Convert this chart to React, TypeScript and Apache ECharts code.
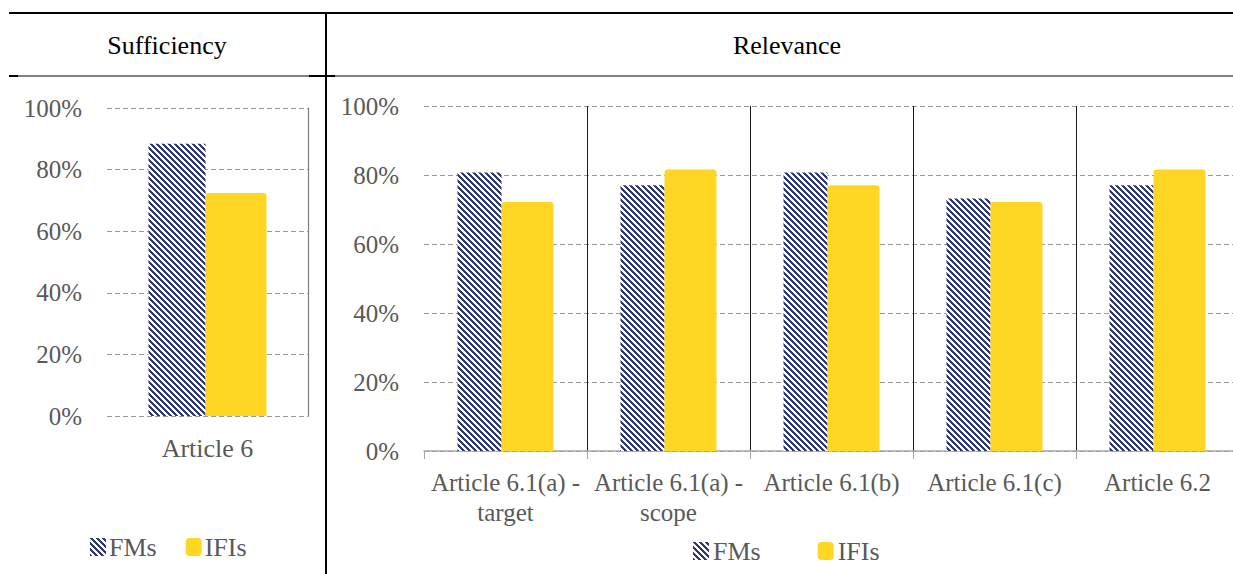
import React, { useEffect, useRef } from 'react';
import * as echarts from 'echarts';

// ---- Data ----
const sufficiencyCategories = ['Article 6'];
const sufficiencyFMs = [88.4];
const sufficiencyIFIs = [72.4];

const relevanceCategories = [
  'Article 6.1(a) - target',
  'Article 6.1(a) - scope',
  'Article 6.1(b)',
  'Article 6.1(c)',
  'Article 6.2',
];
const relevanceFMs = [80.7, 77.0, 80.7, 73.2, 77.0];
const relevanceIFIs = [72.2, 81.6, 77.0, 72.2, 81.6];

const seriesNames = ['FMs', 'IFIs'];
const panelTitles = ['Sufficiency', 'Relevance'];

const FONT = 'Liberation Serif';
const NAVY = '#2F3878';
const YELLOW = '#FFD624';
const GRAY_TEXT = '#595959';

function makeStripe(): HTMLCanvasElement {
  const size = 6;
  const c = document.createElement('canvas');
  c.width = size;
  c.height = size;
  const ctx = c.getContext('2d')!;
  ctx.fillStyle = '#ffffff';
  ctx.fillRect(0, 0, size, size);
  ctx.fillStyle = NAVY;
  for (let y = 0; y < size; y++) {
    for (let x = 0; x < size; x++) {
      const d = (((x - y) % size) + size) % size;
      if (d < 3) ctx.fillRect(x, y, 1, 1);
    }
  }
  return c;
}

export default function App() {
  const ref = useRef<HTMLDivElement>(null);

  useEffect(() => {
    if (!ref.current) return;
    const chart = echarts.init(ref.current, undefined, { renderer: 'svg' });
    const stripe = makeStripe();
    const pattern: any = { image: stripe, repeat: 'repeat', imageWidth: 6, imageHeight: 6 };

    const axisLabel = { color: GRAY_TEXT, fontSize: 25, fontFamily: FONT };
    const gridLine = { show: true, lineStyle: { color: '#9A9A9A', width: 1.2, type: [5, 3] as any } };

    const option: any = {
      animation: false,
      backgroundColor: '#ffffff',
      textStyle: { fontFamily: FONT },
      grid: [
        { left: 107, top: 108, width: 201, height: 308 },
        { left: 424, top: 106, width: 815, height: 345 },
      ],
      xAxis: [
        {
          type: 'category',
          gridIndex: 0,
          data: sufficiencyCategories,
          axisLine: { show: false },
          axisTick: { show: false },
          axisLabel: { ...axisLabel, fontSize: 26, margin: 19 },
        },
        {
          type: 'category',
          gridIndex: 1,
          data: relevanceCategories,
          axisLine: { show: true, lineStyle: { color: '#A6A6A6', width: 1.5 } },
          axisTick: { show: true, interval: 0, length: 8, lineStyle: { color: '#A6A6A6' } },
          splitLine: {
            show: true,
            interval: (i: number) => i > 0,
            lineStyle: { color: '#1a1a1a', width: 1 },
          },
          axisLabel: {
            ...axisLabel,
            interval: 0,
            margin: 16,
            lineHeight: 30,
            formatter: (v: string) => v.replace(' - ', ' -\n'),
          },
        },
      ],
      yAxis: [
        {
          type: 'value',
          gridIndex: 0,
          min: 0,
          max: 100,
          interval: 20,
          axisLine: { show: false },
          axisTick: { show: false },
          axisLabel: { ...axisLabel, margin: 25, formatter: '{value}%' },
          splitLine: gridLine,
        },
        {
          type: 'value',
          gridIndex: 0,
          position: 'right',
          min: 0,
          max: 100,
          interval: 20,
          axisLine: { show: true, lineStyle: { color: '#7F7F7F', width: 1.2 } },
          axisTick: { show: false },
          axisLabel: { show: false },
          splitLine: { show: false },
        },
        {
          type: 'value',
          gridIndex: 1,
          min: 0,
          max: 100,
          interval: 20,
          axisLine: { show: false },
          axisTick: { show: false },
          axisLabel: { ...axisLabel, margin: 25, formatter: '{value}%' },
          splitLine: gridLine,
        },
      ],
      legend: [
        {
          left: 85,
          top: 529,
          itemWidth: 16,
          itemHeight: 18,
          itemGap: 29,
          textStyle: { color: GRAY_TEXT, fontSize: 26, fontFamily: FONT, padding: [2, 0, 0, -2] },
          data: [
            { name: seriesNames[0], icon: 'rect' },
            { name: seriesNames[1], icon: 'roundRect' },
          ],
        },
        {
          left: 688,
          top: 533,
          itemWidth: 16,
          itemHeight: 18,
          itemGap: 57,
          textStyle: { color: GRAY_TEXT, fontSize: 26, fontFamily: FONT, padding: [2, 0, 0, -1] },
          data: [
            { name: seriesNames[0], icon: 'rect' },
            { name: seriesNames[1], icon: 'roundRect' },
          ],
        },
      ],
      series: [
        {
          name: seriesNames[0],
          type: 'bar',
          xAxisIndex: 0,
          yAxisIndex: 0,
          data: sufficiencyFMs,
          barWidth: 57,
          barGap: '0%',
          itemStyle: { color: pattern },
        },
        {
          name: seriesNames[1],
          type: 'bar',
          xAxisIndex: 0,
          yAxisIndex: 0,
          data: sufficiencyIFIs,
          barWidth: 61,
          barGap: '0%',
          itemStyle: { color: YELLOW, borderRadius: [3, 3, 0, 0] },
        },
        {
          name: seriesNames[0],
          type: 'bar',
          xAxisIndex: 1,
          yAxisIndex: 2,
          data: relevanceFMs,
          barWidth: 44,
          barGap: '0%',
          itemStyle: { color: pattern },
        },
        {
          name: seriesNames[1],
          type: 'bar',
          xAxisIndex: 1,
          yAxisIndex: 2,
          data: relevanceIFIs,
          barWidth: 52,
          barGap: '0%',
          itemStyle: { color: YELLOW, borderRadius: [3, 3, 0, 0] },
        },
      ],
      graphic: [
        { type: 'line', silent: true, shape: { x1: 9, y1: 13, x2: 1240, y2: 13 }, style: { stroke: '#000', lineWidth: 2 } },
        { type: 'line', silent: true, shape: { x1: 9, y1: 76, x2: 1240, y2: 76 }, style: { stroke: '#000', lineWidth: 1 } },
        { type: 'line', silent: true, shape: { x1: 9, y1: 76, x2: 18, y2: 76 }, style: { stroke: '#000', lineWidth: 2 } },
        { type: 'line', silent: true, shape: { x1: 309, y1: 76, x2: 335, y2: 76 }, style: { stroke: '#000', lineWidth: 2 } },
        { type: 'line', silent: true, shape: { x1: 326, y1: 13, x2: 326, y2: 574 }, style: { stroke: '#000', lineWidth: 2 } },
        {
          type: 'text',
          silent: true,
          x: 167,
          y: 45,
          style: { text: panelTitles[0], fontSize: 26, fontFamily: FONT, fill: '#000', textAlign: 'center', textVerticalAlign: 'middle' },
        },
        {
          type: 'text',
          silent: true,
          x: 787,
          y: 45,
          style: { text: panelTitles[1], fontSize: 26, fontFamily: FONT, fill: '#000', textAlign: 'center', textVerticalAlign: 'middle' },
        },
      ],
    };

    chart.setOption(option);
    return () => chart.dispose();
  }, []);

  return (
    <div
      style={{ position: 'absolute', left: 0, top: 0, width: 1233, height: 574, overflow: 'hidden', background: '#fff' }}
    >
      <div ref={ref} style={{ width: 1240, height: 574 }} />
    </div>
  );
}
